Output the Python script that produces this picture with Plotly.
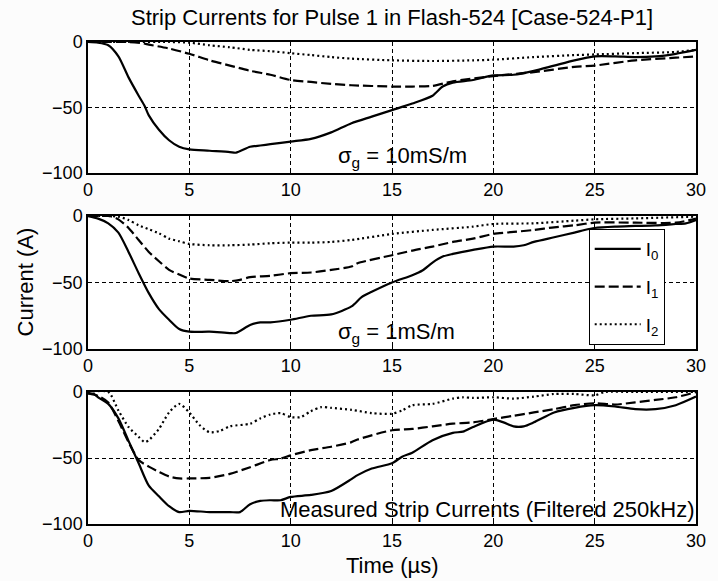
import plotly.graph_objects as go

# ---------------- data ----------------
# Panel 1: sigma_g = 10 mS/m
p1_t_i0 = [0, 0.5, 1, 1.5, 2, 2.5, 2.8, 3, 3.5, 4, 4.5, 5, 6, 7, 7.3, 8, 8.5, 9, 10, 11, 12, 13, 14, 15, 16,
           17, 17.5, 18, 19, 20, 21, 22, 23, 24, 25, 26, 27, 28, 29, 30]
p1_i0 = [0, -0.5, -2.5, -11, -27, -41, -49, -56, -67, -75, -80, -82, -83, -84, -84.5, -80, -79, -78, -76, -74,
         -69, -62, -57, -52, -47, -41, -34, -31, -29, -25.5, -25, -22, -18, -14, -11, -11, -11.5, -11, -9, -6]
p1_t_i1 = [0, 1, 2, 2.7, 3, 4, 5, 6, 7, 8, 9, 10, 11, 12, 13, 15, 16, 17, 17.7, 18, 20, 22, 24, 25, 27, 29, 30]
p1_i1 = [0, 0, 0, -1, -2, -5, -9, -14, -18, -22, -25, -29, -30.5, -32, -33, -34, -34, -33.5, -31, -30, -26,
         -23, -19, -18, -14, -12, -11]
p1_t_i2 = [0, 2, 4, 5, 6, 7, 8, 9, 10, 11, 12, 13, 15, 17, 19, 20, 22, 24, 25, 27, 29, 30]
p1_i2 = [0, 0, 0, -0.5, -2.5, -4, -6, -7, -8.5, -10, -11.5, -12.7, -14, -14.5, -14, -13.5, -11.5, -10, -9.5,
         -8.5, -7.6, -6]

# Panel 2: sigma_g = 1 mS/m
p2_t_i0 = [0, 0.5, 1, 1.5, 2, 2.5, 3, 3.5, 4, 4.5, 5, 6, 7, 7.3, 8, 8.5, 9, 10, 11, 12, 13, 13.5, 14, 15, 16,
           16.5, 17, 17.5, 18, 19, 20, 21, 21.5, 22, 23, 24, 24.5, 25, 26, 27, 28, 29, 29.5, 30]
p2_i0 = [0, -2, -5.5, -12.5, -27, -43, -58, -70, -78, -85, -87, -87, -88, -88, -82, -80, -80, -78, -75, -74,
         -68, -61, -57, -50, -44.5, -41, -35, -30.5, -28.5, -25.5, -23, -23, -22, -19.5, -16, -12.5, -10.5, -9,
         -8, -7.5, -7, -6, -5.5, -3]
p2_t_i1 = [0, 1, 1.2, 1.5, 2, 2.5, 3, 3.5, 4, 4.5, 5, 6, 7, 7.5, 8, 9, 10, 11, 12, 13, 13.3, 15, 16, 17, 18,
           19, 20, 21, 22, 23, 24, 25, 27, 29, 30]
p2_i1 = [0, 0, -0.5, -2.5, -9, -18, -27, -34, -40.5, -44, -47, -48, -49, -48, -46, -45, -43, -42.5, -40.5,
         -38, -35.5, -29.5, -26, -23, -19.5, -17, -13.5, -12, -10.5, -8.5, -7, -5, -5, -5, -2]
p2_t_i2 = [0, 1, 1.5, 2, 2.5, 3, 3.5, 4, 4.5, 5, 6, 7, 8, 9, 10, 11, 12, 13, 15, 17, 19, 20, 22, 24, 25, 27, 30]
p2_i2 = [0, 0, -0.5, -3, -7, -10, -13, -17, -19, -21, -22, -22, -21.5, -20.5, -20, -20, -19.5, -18, -13.5,
         -10.5, -8, -6, -5.5, -3.5, -2.5, -1.8, -0.5]

# Panel 3: measured (filtered 250 kHz)
p3_t_i0 = [0, 0.3, 0.5, 1, 1.5, 2, 2.5, 3, 3.5, 4, 4.5, 5, 6, 7, 7.5, 8, 8.5, 9, 9.5, 10, 11, 12, 13, 13.3, 14,
           15, 15.5, 16, 17, 18, 18.5, 19, 20, 20.5, 21, 21.5, 22, 23, 24, 25, 26, 27, 28, 29, 30]
p3_i0 = [-1, -1.5, -4, -9, -20, -37, -54, -71, -79, -86.5, -91, -90, -91, -91, -91, -85, -82.5, -82, -82,
         -79.5, -78, -75, -66, -63, -58, -54, -49, -46, -36.5, -31, -30, -26.5, -21, -23, -26, -26, -23, -15.5,
         -12, -10, -11, -13, -13, -10, -3.5]
p3_t_i1 = [0, 0.5, 1, 1.5, 2, 2.5, 3, 3.5, 4, 4.5, 5, 6, 7, 8, 9, 9.5, 10, 11, 12, 13, 13.3, 15, 16, 17, 18,
           19, 20, 21, 22, 23, 24, 25, 26, 27, 28, 29, 30]
p3_i1 = [-1, -3, -8, -22, -38, -51.5, -56.5, -60.5, -64, -65.5, -65.5, -65, -62, -57, -51.5, -50.5, -48, -44,
         -41.5, -38, -36, -29, -28, -26, -24, -23, -20.5, -18, -15.5, -13, -10, -8.5, -9.5, -7.8, -6, -4, 0]
p3_t_i2 = [0, 1, 1.5, 2, 2.5, 2.8, 3, 3.5, 4, 4.5, 5, 5.5, 6, 6.5, 7, 8, 8.5, 9, 9.5, 10, 10.5, 11, 11.5, 12,
           13, 14, 15, 15.5, 16, 17, 18, 18.5, 19, 20, 21, 22, 23, 24, 25, 25.5, 27, 30]
p3_i2 = [0, 0, -14, -26.5, -34, -38, -36.5, -28, -15.5, -9, -15.5, -25, -30.5, -29.5, -26, -24, -20, -17, -16,
         -19, -19, -14.5, -11.5, -12, -13.5, -16, -16.5, -14, -10, -9, -5, -4, -4.5, -4, -5, -3.5, -1.5, -1.5,
         -2.5, 0, 0, 0]

series_names = ["I<sub>0</sub>", "I<sub>1</sub>", "I<sub>2</sub>"]
x_ticks = [0, 5, 10, 15, 20, 25, 30]
y_ticks = [-100, -50, 0]
title_text = "Strip Currents for Pulse 1 in Flash-524 [Case-524-P1]"
panel_labels = ["σ<sub>g</sub> = 10mS/m", "σ<sub>g</sub> = 1mS/m", "Measured Strip Currents (Filtered 250kHz)"]

# ---------------- figure ----------------
W, H = 718, 581
ML, MR, MT, MB = 88, 18, 42, 57
PH = H - MT - MB  # plot height in px
PW = W - ML - MR


def ydom(top_px, bot_px):
    return [(H - MB - bot_px) / PH, (H - MB - top_px) / PH]


domains = [ydom(42, 173), ydom(216, 349), ydom(392, 524)]
styles = [dict(dash="solid", width=2.2), dict(dash="10px,4px", width=2.2), dict(dash="2px,3px", width=2.2)]

panels = [
    [(p1_t_i0, p1_i0), (p1_t_i1, p1_i1), (p1_t_i2, p1_i2)],
    [(p2_t_i0, p2_i0), (p2_t_i1, p2_i1), (p2_t_i2, p2_i2)],
    [(p3_t_i0, p3_i0), (p3_t_i1, p3_i1), (p3_t_i2, p3_i2)],
]

fig = go.Figure()
FONT = "Liberation Sans, Arial, sans-serif"

for pi, panel in enumerate(panels):
    xa = "x" if pi == 0 else f"x{pi + 1}"
    ya = "y" if pi == 0 else f"y{pi + 1}"
    for si, (tt, vv) in enumerate(panel):
        fig.add_trace(go.Scatter(
            x=tt, y=vv, mode="lines", xaxis=xa, yaxis=ya,
            name=series_names[si], legendgroup=series_names[si],
            showlegend=(pi == 1),
            line=dict(color="black", shape="spline", smoothing=0.7, **styles[si]),
            hoverinfo="skip",
        ))

axis_common = dict(
    showline=True, mirror=True, linecolor="black", linewidth=1.5,
    showgrid=True, gridcolor="black", gridwidth=1, griddash="4px,3px",
    zeroline=False, ticks="inside", ticklen=4, tickcolor="black",
    tickfont=dict(family=FONT, size=18, color="black"),
)

layout = dict(
    width=W, height=H,
    margin=dict(l=ML, r=MR, t=MT, b=MB),
    paper_bgcolor="#fcfcfc", plot_bgcolor="white",
    font=dict(family=FONT, color="black"),
    showlegend=True,
    legend=dict(
        x=(592 - ML) / PW, y=(H - MB - 229) / PH,
        xanchor="left", yanchor="top",
        bgcolor="white", bordercolor="black", borderwidth=1,
        font=dict(family=FONT, size=19, color="black"),
        itemwidth=46,
    ),
)

for pi in range(3):
    xk = "xaxis" if pi == 0 else f"xaxis{pi + 1}"
    yk = "yaxis" if pi == 0 else f"yaxis{pi + 1}"
    anchor_y = "y" if pi == 0 else f"y{pi + 1}"
    anchor_x = "x" if pi == 0 else f"x{pi + 1}"
    layout[xk] = dict(axis_common, range=[0, 30], tickvals=x_ticks, anchor=anchor_y, domain=[0, 1])
    layout[yk] = dict(axis_common, range=[-100, 0], tickvals=y_ticks, anchor=anchor_x, domain=domains[pi])

fig.update_layout(**layout)

# title
fig.add_annotation(text=title_text, xref="paper", yref="paper", x=0.5,
                   y=1 + (MT - 18) / PH, xanchor="center", yanchor="middle", showarrow=False,
                   font=dict(family=FONT, size=22, color="black"))
# axis labels
fig.add_annotation(text="Time (µs)", xref="paper", yref="paper", x=0.5, y=-(565 - (H - MB)) / PH,
                   xanchor="center", yanchor="middle", showarrow=False,
                   font=dict(family=FONT, size=22, color="black"))
fig.add_annotation(text="Current (A)", xref="paper", yref="paper", x=-(88 - 25) / PW,
                   y=(H - MB - 282) / PH, xanchor="center", yanchor="middle", textangle=-90, showarrow=False,
                   font=dict(family=FONT, size=22, color="black"))

# panel annotations
fig.add_annotation(text=panel_labels[0], xref="x", yref="y", x=(338 - ML) / 20.4, y=-88,
                   xanchor="left", yanchor="middle", showarrow=False,
                   font=dict(family=FONT, size=22, color="black"))
fig.add_annotation(text=panel_labels[1], xref="x2", yref="y2", x=(338 - ML) / 20.4, y=-88,
                   xanchor="left", yanchor="middle", showarrow=False,
                   font=dict(family=FONT, size=22, color="black"))
fig.add_annotation(text=panel_labels[2], xref="x3", yref="y3", x=30, y=-89,
                   xanchor="right", yanchor="middle", showarrow=False,
                   font=dict(family=FONT, size=22, color="black"))

fig.write_html("out.html")
